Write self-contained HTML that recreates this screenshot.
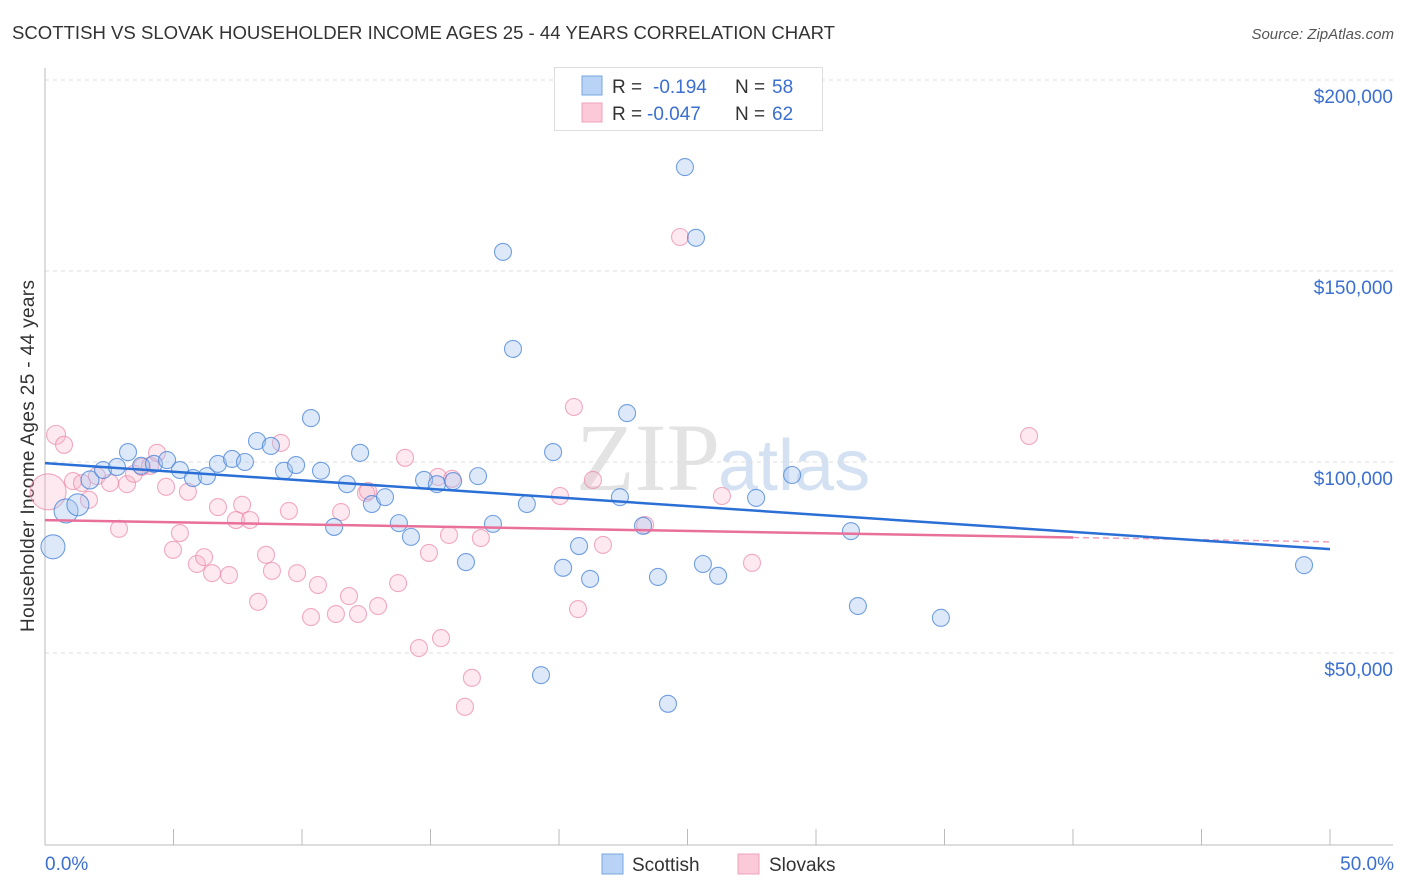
<!DOCTYPE html>
<html><head><meta charset="utf-8">
<style>
body{margin:0;background:#fff;font-family:"Liberation Sans",sans-serif;}
svg{display:block}
</style></head>
<body>
<svg id="chart" width="1406" height="892">
<text x="12" y="39" font-size="18" fill="#333" textLength="823" lengthAdjust="spacingAndGlyphs">SCOTTISH VS SLOVAK HOUSEHOLDER INCOME AGES 25 - 44 YEARS CORRELATION CHART</text>
<text x="1394" y="39" font-size="15" fill="#555" font-style="italic" text-anchor="end">Source: ZipAtlas.com</text>
<text x="0" y="0" transform="translate(34,456) rotate(-90)" font-size="19" fill="#333" text-anchor="middle" textLength="352">Householder Income Ages 25 - 44 years</text>
<text x="720" y="490" font-size="96" fill="#e3e3e3" font-family="Liberation Serif,serif" text-anchor="end">ZIP</text>
<text x="718" y="490" font-size="72" fill="#d3e1f3">atlas</text>
<g id="grid"></g>
<g id="trends"></g>
<g id="pts"></g>
<g>
<rect x="554.5" y="67.5" width="268" height="63" fill="#fff" stroke="#ddd"/>
<rect x="582" y="76" width="20" height="19" fill="#b8d3f5" stroke="#7aa7e0"/>
<rect x="582" y="103" width="20" height="19" fill="#fbc9d7" stroke="#eea2b8"/>
<text x="612" y="93" font-size="19" fill="#333">R = <tspan fill="#3b6fd0" x="653">-0.194</tspan><tspan x="735" fill="#333">N = </tspan><tspan fill="#3b6fd0" x="772">58</tspan></text>
<text x="612" y="120" font-size="19" fill="#333">R = <tspan fill="#3b6fd0" x="647">-0.047</tspan><tspan x="735" fill="#333">N = </tspan><tspan fill="#3b6fd0" x="772">62</tspan></text>
</g>
<g>
<rect x="602" y="854" width="21" height="20" fill="#b8d3f5" stroke="#7aa7e0"/>
<text x="632" y="871" font-size="19" fill="#333">Scottish</text>
<rect x="738" y="854" width="21" height="20" fill="#fbc9d7" stroke="#eea2b8"/>
<text x="769" y="871" font-size="19" fill="#333">Slovaks</text>
</g>
<text x="45" y="870" font-size="19" fill="#3b6fd0">0.0%</text>
<text x="1394" y="870" font-size="19" fill="#3b6fd0" text-anchor="end">50.0%</text>
</svg>
<script>
const yTicks=[50,100,150,200];
const yTickLabels=["$50,000","$100,000","$150,000","$200,000"];
const xTicks=[0,5,10,15,20,25,30,35,40,45,50];
const scotX=[0.31,0.82,1.28,1.75,2.26,2.80,3.23,3.74,4.24,4.75,5.25,5.76,6.30,6.73,7.28,7.78,8.25,8.79,9.30,9.77,10.35,10.74,11.25,11.75,12.26,12.72,13.23,13.77,14.24,14.75,15.25,15.88,16.38,16.85,17.43,17.82,18.21,18.75,19.30,19.77,20.16,20.78,21.21,22.37,22.65,23.27,23.85,24.24,24.90,25.33,25.60,26.19,27.67,29.07,31.36,31.63,34.86,48.99];
const scotY=[77.8,87.2,88.8,95.3,97.9,98.7,102.6,99.0,99.5,100.5,97.9,95.8,96.3,99.5,100.8,100.0,105.5,104.2,97.7,99.2,111.5,97.7,83.0,94.2,102.4,89.0,90.8,84.0,80.4,95.3,94.2,95.0,73.8,96.3,83.8,155.0,129.6,89.0,44.2,102.6,72.3,78.0,69.4,90.8,112.8,83.3,69.9,36.7,177.2,158.7,73.3,70.2,90.6,96.6,81.9,62.3,59.2,73.0];
const scotR=[12,12,11,9,8.5,8.5,8.5,8.5,8.5,8.5,8.5,8.5,8.5,8.5,8.5,8.5,8.5,8.5,8.5,8.5,8.5,8.5,8.5,8.5,8.5,8.5,8.5,8.5,8.5,8.5,8.5,8.5,8.5,8.5,8.5,8.5,8.5,8.5,8.5,8.5,8.5,8.5,8.5,8.5,8.5,8.5,8.5,8.5,8.5,8.5,8.5,8.5,8.5,8.5,8.5,8.5,8.5,8.5];
const slovX=[0.12,0.43,0.74,1.09,1.44,1.71,2.02,2.53,2.88,3.19,3.46,3.77,4.09,4.36,4.71,4.98,5.25,5.56,5.91,6.19,6.50,6.73,7.16,7.43,7.67,7.98,8.29,8.60,8.83,9.18,9.49,9.81,10.35,10.62,11.32,11.52,11.83,12.18,12.49,12.57,12.96,13.74,14.01,14.55,14.94,15.29,15.41,15.72,15.84,16.34,16.61,16.96,20.04,20.58,20.74,21.32,21.71,23.35,24.71,26.34,27.51,38.29];
const slovY=[92.2,107.1,104.5,95.0,94.5,90.1,96.3,94.5,82.5,94.2,96.9,98.7,99.0,102.4,93.5,77.0,81.4,92.2,73.3,75.1,70.9,88.2,70.4,84.8,88.8,84.8,63.4,75.7,71.5,105.0,87.2,70.9,59.4,67.8,60.2,86.9,64.9,60.2,91.9,92.4,62.3,68.3,101.1,51.3,76.2,96.1,53.9,80.9,95.6,35.9,43.5,80.1,91.1,114.4,61.5,95.3,78.3,83.5,158.9,91.1,73.6,106.8];
const slovR=[18,9.5,8.5,8.5,8.5,8.5,8.5,8.5,8.5,8.5,8.5,8.5,8.5,8.5,8.5,8.5,8.5,8.5,8.5,8.5,8.5,8.5,8.5,8.5,8.5,8.5,8.5,8.5,8.5,8.5,8.5,8.5,8.5,8.5,8.5,8.5,8.5,8.5,8.5,8.5,8.5,8.5,8.5,8.5,8.5,8.5,8.5,8.5,8.5,8.5,8.5,8.5,8.5,8.5,8.5,8.5,8.5,8.5,8.5,8.5,8.5,8.5];
const scotTrend=[99.7,77.2];
const slovTrend=[84.8,79.1];
const slovTrendSolidEnd=40;

const NS="http://www.w3.org/2000/svg";
const sx=v=>45+v*25.7;
const sy=v=>844-v*3.82;
function mk(tag,attrs,parent){const e=document.createElementNS(NS,tag);for(const k in attrs)e.setAttribute(k,attrs[k]);parent.appendChild(e);return e;}
const grid=document.getElementById('grid');
yTicks.forEach((t,i)=>{
  const l=mk('line',{x1:45,x2:1393,y1:sy(t),y2:sy(t),stroke:'#ddd','stroke-dasharray':'4,4'},grid);
  
  
  const tx=mk('text',{x:1393,y:sy(t)+23,'font-size':19,fill:'#3b6fd0','text-anchor':'end'},grid);
  tx.textContent=yTickLabels[i];
  
  
});
const ax=mk('line',{x1:45,x2:1393,y1:845,y2:845,stroke:'#bbb'},grid);


const ay=mk('line',{x1:45,x2:45,y1:68,y2:845,stroke:'#bbb'},grid);


xTicks.forEach(t=>{
  const l=mk('line',{x1:sx(t),x2:sx(t),y1:829,y2:845,stroke:'#bbb'},grid);
  
  
});
const pts=document.getElementById('pts');
slovX.forEach((x,i)=>{
  const c=mk('circle',{cx:sx(x),cy:sy(slovY[i]),r:slovR[i],fill:'rgba(248,175,198,0.28)',stroke:'rgba(235,135,168,0.7)','stroke-width':1.1},pts);
  
  
});
scotX.forEach((x,i)=>{
  const c=mk('circle',{cx:sx(x),cy:sy(scotY[i]),r:scotR[i],fill:'rgba(165,198,240,0.38)',stroke:'rgba(70,130,215,0.75)','stroke-width':1.1},pts);
  
  
});
const tr=document.getElementById('trends');
const slovAt=x=>slovTrend[0]+(slovTrend[1]-slovTrend[0])*x/50;
const pd=mk('line',{x1:sx(slovTrendSolidEnd),y1:sy(slovAt(slovTrendSolidEnd)),x2:sx(50),y2:sy(slovTrend[1]),stroke:'#f0a0b8','stroke-width':1.5,'stroke-dasharray':'6,4'},tr);


const ps=mk('line',{x1:sx(0),y1:sy(slovTrend[0]),x2:sx(slovTrendSolidEnd),y2:sy(slovAt(slovTrendSolidEnd)),stroke:'#e8709a','stroke-width':2.5},tr);


const bl=mk('line',{x1:sx(0),y1:sy(scotTrend[0]),x2:sx(50),y2:sy(scotTrend[1]),stroke:'#2a6fd6','stroke-width':2.5},tr);


document.getElementById('chart').appendChild(tr);
</script>
</body></html>
